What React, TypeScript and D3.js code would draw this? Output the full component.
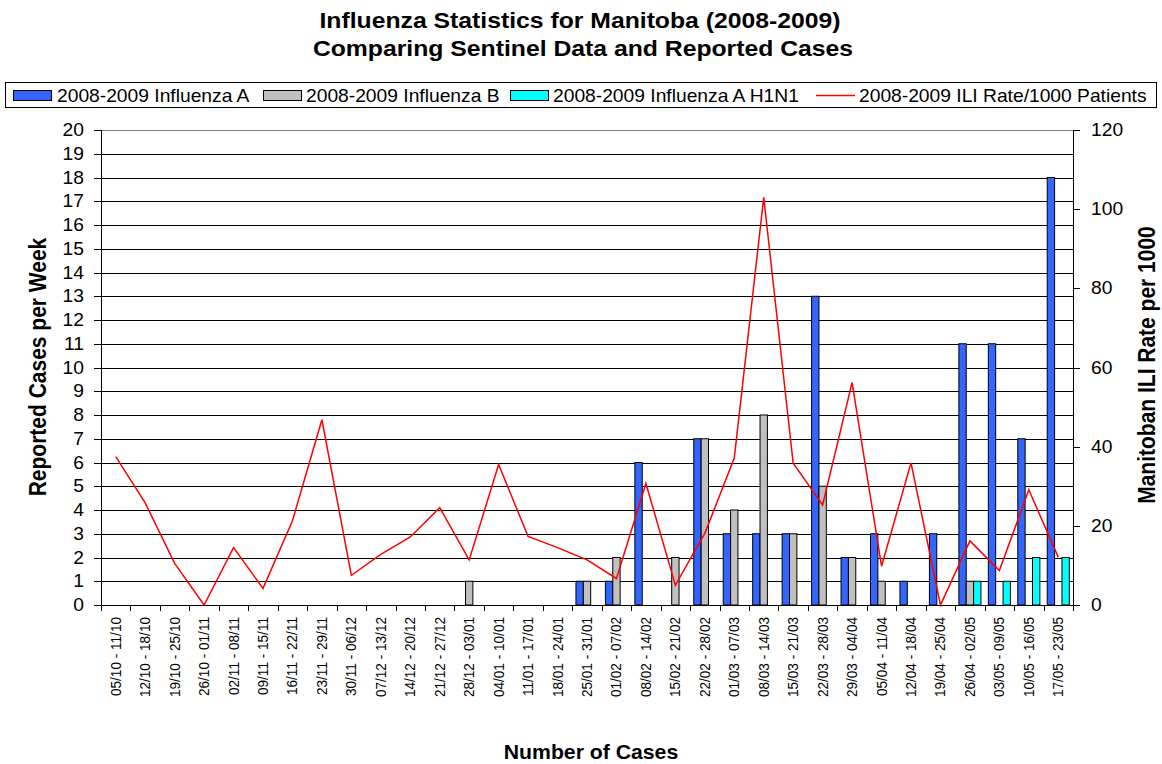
import React from "react";
import * as d3 from "d3";

const weeks = [
  "05/10 - 11/10", "12/10 - 18/10", "19/10 - 25/10", "26/10 - 01/11", "02/11 - 08/11",
  "09/11 - 15/11", "16/11 - 22/11", "23/11 - 29/11", "30/11 - 06/12", "07/12 - 13/12",
  "14/12 - 20/12", "21/12 - 27/12", "28/12 - 03/01", "04/01 - 10/01", "11/01 - 17/01",
  "18/01 - 24/01", "25/01 - 31/01", "01/02 - 07/02", "08/02 - 14/02", "15/02 - 21/02",
  "22/02 - 28/02", "01/03 - 07/03", "08/03 - 14/03", "15/03 - 21/03", "22/03 - 28/03",
  "29/03 - 04/04", "05/04 - 11/04", "12/04 - 18/04", "19/04 - 25/04", "26/04 - 02/05",
  "03/05 - 09/05", "10/05 - 16/05", "17/05 - 23/05",
];

const fluA = [0, 0, 0, 0, 0, 0, 0, 0, 0, 0, 0, 0, 0, 0, 0, 0, 1, 1, 6, 0, 7, 3, 3, 3, 13, 2, 3, 1, 3, 11, 11, 7, 18];
const fluB = [0, 0, 0, 0, 0, 0, 0, 0, 0, 0, 0, 0, 1, 0, 0, 0, 1, 2, 0, 2, 7, 4, 8, 3, 5, 2, 1, 0, 0, 1, 0, 0, 0];
const h1n1 = [0, 0, 0, 0, 0, 0, 0, 0, 0, 0, 0, 0, 0, 0, 0, 0, 0, 0, 0, 0, 0, 0, 0, 0, 0, 0, 0, 0, 0, 1, 1, 2, 2];
const iliRate = [37.5, 25.8, 10.5, 0, 14.5, 4.2, 21.3, 46.8, 7.5, 12.8, 17.2, 24.6, 11.4, 35.5, 17.3, 14.5, 11.4, 6.7,
  30.7, 5.0, 18.1, 37.1, 103, 35.8, 25.3, 56.2, 9.8, 35.9, 0, 16.2, 8.7, 29.1, 12.1];

const leftTicks = d3.range(0, 21);
const rightTicks = [0, 20, 40, 60, 80, 100, 120];

const seriesNames = [
  "2008-2009 Influenza A",
  "2008-2009 Influenza B",
  "2008-2009 Influenza A H1N1",
  "2008-2009 ILI Rate/1000 Patients",
];
const colors = ["#3366FF", "#C0C0C0", "#00FFFF", "#FF0000"];

const W = 1162;
const H = 764;
const plot = { left: 101, right: 1073, top: 130, bottom: 605 };
const font = "Arial, 'Liberation Sans', sans-serif";
const SX = 1.1; // the original picture is slightly stretched sideways

// horizontal text, stretched a bit in x
function HText(props: { x: number; y: number; size: number; anchor?: string; bold?: boolean; children: React.ReactNode }) {
  const { x, y, size, anchor, bold, children } = props;
  return (
    <text transform={`translate(${x},${y}) scale(${SX},1)`} textAnchor={anchor || "start"}
      fontSize={size} fontWeight={bold ? "bold" : "normal"}>
      {children}
    </text>
  );
}

// vertical text reading bottom to top
function VText(props: { x: number; y: number; size: number; anchor?: string; bold?: boolean; children: React.ReactNode }) {
  const { x, y, size, anchor, bold, children } = props;
  return (
    <text transform={`translate(${x},${y}) rotate(-90) scale(1,${SX})`} textAnchor={anchor || "middle"}
      fontSize={size} fontWeight={bold ? "bold" : "normal"}>
      {children}
    </text>
  );
}

export default function App() {
  const x = d3.scaleBand<string>().domain(weeks).range([plot.left, plot.right]).padding(0);
  const yL = d3.scaleLinear().domain([0, 20]).range([plot.bottom, plot.top]);
  const yR = d3.scaleLinear().domain([0, 120]).range([plot.bottom, plot.top]);
  const bw = x.bandwidth() / 4;

  const line = d3.line<number>()
    .x((_, i) => (x(weeks[i]) as number) + x.bandwidth() / 2)
    .y(d => yR(d));

  const bars = [fluA, fluB, h1n1];

  // legend layout
  const legendItems = [
    { sw: 13, tx: 57 },
    { sw: 263, tx: 306 },
    { sw: 510, tx: 553 },
    { sw: 816, tx: 859 },
  ];

  return (
    <div style={{ position: "absolute", left: 0, top: 0 }}>
      <svg width={W} height={H} style={{ display: "block", background: "#fff" }} fontFamily={font}>
        <HText x={580} y={28} size={22.5} anchor="middle" bold>
          Influenza Statistics for Manitoba (2008-2009)
        </HText>
        <HText x={583} y={56} size={22.5} anchor="middle" bold>
          Comparing Sentinel Data and Reported Cases
        </HText>

        {/* legend */}
        <rect x={5.5} y={82.5} width={1151} height={25} fill="#fff" stroke="#000" />
        {legendItems.map((it, i) => (
          <g key={i}>
            {i < 3 ? (
              <rect x={it.sw + 0.5} y={90.5} width={38} height={10} fill={colors[i]} stroke="#000" />
            ) : (
              <line x1={it.sw} x2={it.sw + 39} y1={95.5} y2={95.5} stroke={colors[3]} strokeWidth={1.5} />
            )}
            <HText x={it.tx} y={102} size={17.5}>{seriesNames[i]}</HText>
          </g>
        ))}

        {/* gridlines */}
        {leftTicks.map(t => (
          <line key={t} x1={plot.left} x2={plot.right} y1={Math.round(yL(t)) + 0.5} y2={Math.round(yL(t)) + 0.5}
            stroke={t === 20 ? "#808080" : "#000"} strokeWidth={1} />
        ))}

        {/* bars */}
        {bars.map((s, si) =>
          s.map((v, i) =>
            v > 0 ? (
              <rect key={`${si}-${i}`}
                x={(x(weeks[i]) as number) + x.bandwidth() / 2 + (si - 1.5) * bw}
                y={yL(v)} width={bw} height={yL(0) - yL(v)}
                fill={colors[si]} stroke="#000" strokeWidth={1} />
            ) : null
          )
        )}

        {/* ILI line */}
        <path d={line(iliRate) || ""} fill="none" stroke={colors[3]} strokeWidth={1.5} />

        {/* left axis */}
        <line x1={plot.left + 0.5} x2={plot.left + 0.5} y1={plot.top} y2={plot.bottom} stroke="#000" />
        {leftTicks.map(t => (
          <g key={t}>
            <line x1={plot.left - 7} x2={plot.left} y1={Math.round(yL(t)) + 0.5} y2={Math.round(yL(t)) + 0.5} stroke="#000" />
            <HText x={84} y={yL(t) + 6} size={17.5} anchor="end">{t}</HText>
          </g>
        ))}

        {/* right axis */}
        <line x1={plot.right + 0.5} x2={plot.right + 0.5} y1={plot.top} y2={plot.bottom} stroke="#000" />
        {rightTicks.map(t => (
          <g key={t}>
            <line x1={plot.right} x2={plot.right + 7} y1={Math.round(yR(t)) + 0.5} y2={Math.round(yR(t)) + 0.5} stroke="#000" />
            <HText x={1091} y={yR(t) + 6} size={17.5}>{t}</HText>
          </g>
        ))}

        {/* x axis */}
        <line x1={plot.left} x2={plot.right} y1={plot.bottom + 0.5} y2={plot.bottom + 0.5} stroke="#000" />
        {weeks.map((w, i) => (
          <line key={"t" + i} x1={Math.round(x(w) as number) + 0.5} x2={Math.round(x(w) as number) + 0.5}
            y1={plot.bottom} y2={plot.bottom + 6} stroke="#000" />
        ))}
        <line x1={plot.right + 0.5} x2={plot.right + 0.5} y1={plot.bottom} y2={plot.bottom + 6} stroke="#000" />
        {weeks.map(w => {
          const cx = (x(w) as number) + x.bandwidth() / 2;
          return (
            <VText key={w} x={cx + 5} y={617} size={13.6} anchor="end">{w}</VText>
          );
        })}

        {/* axis titles */}
        <VText x={45.5} y={367} size={21} bold>Reported Cases per Week</VText>
        <VText x={1155} y={365} size={21} bold>Manitoban ILI Rate per 1000</VText>
        <HText x={591} y={759} size={19.3} anchor="middle" bold>Number of Cases</HText>
      </svg>
    </div>
  );
}
